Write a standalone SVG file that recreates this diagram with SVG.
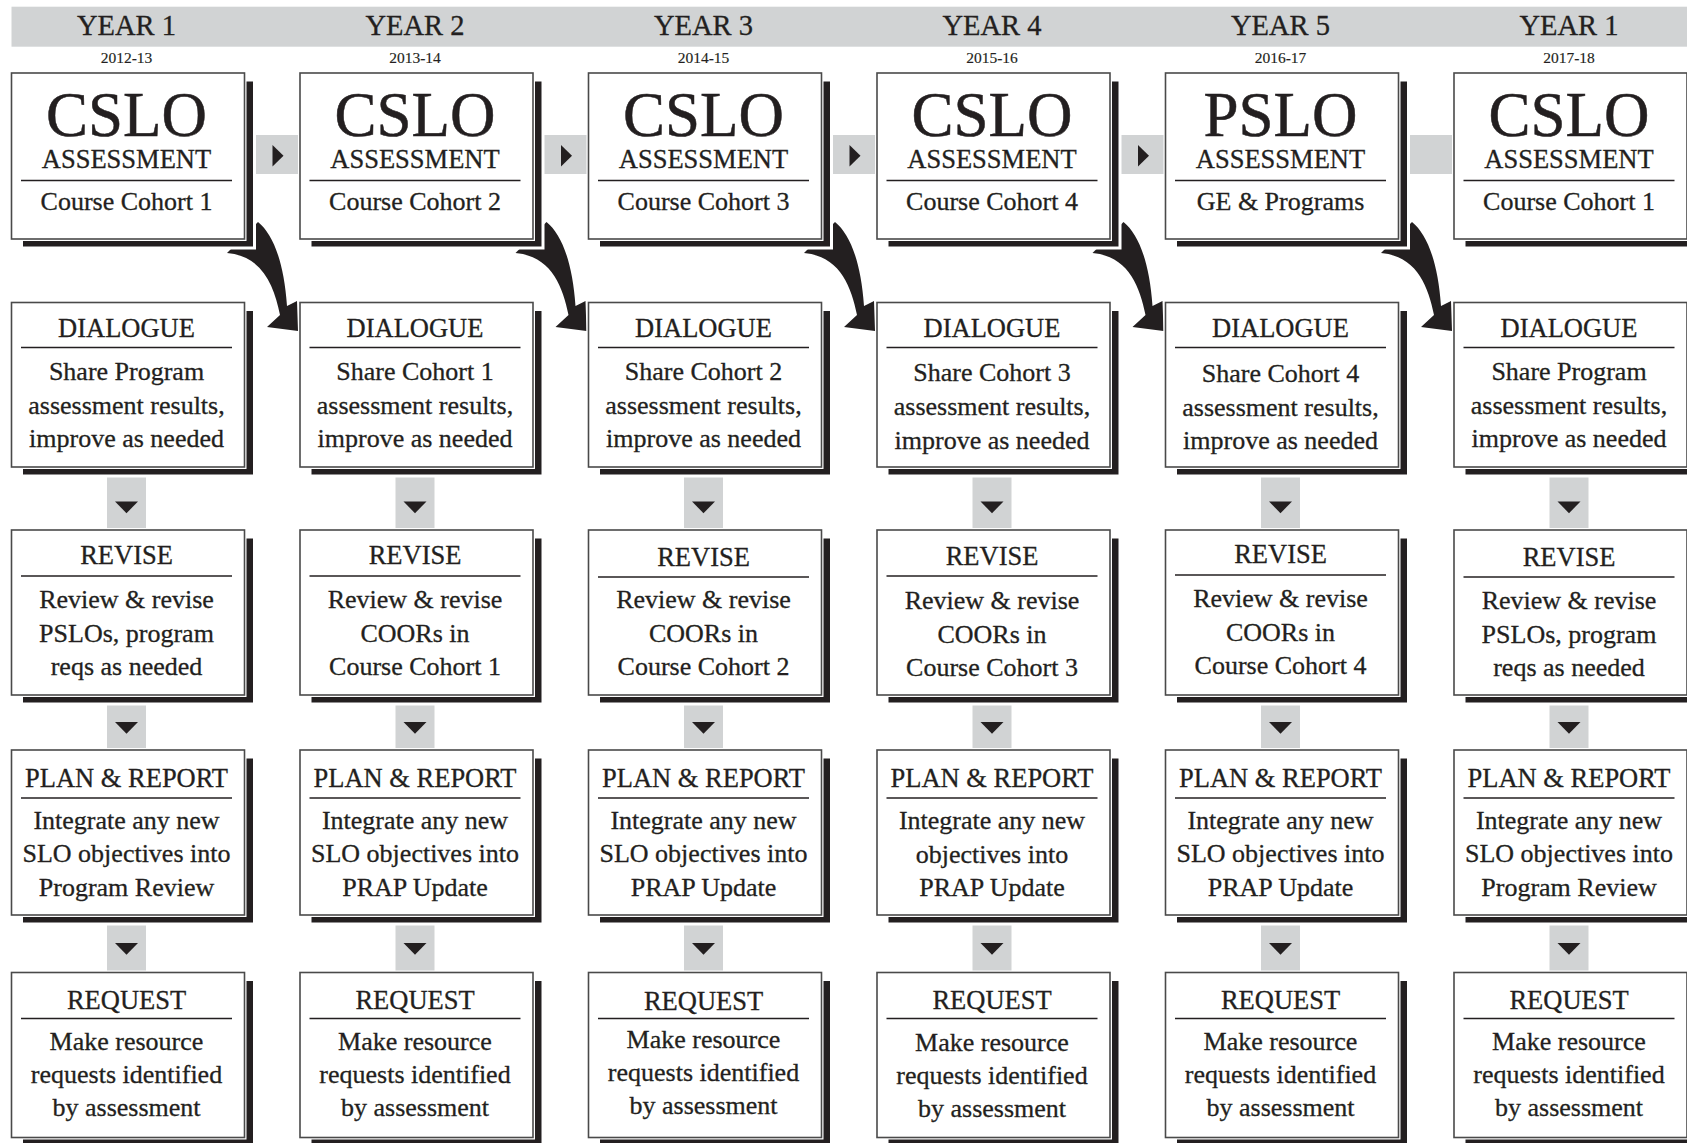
<svg xmlns="http://www.w3.org/2000/svg" xmlns:xlink="http://www.w3.org/1999/xlink" width="1687" height="1143" viewBox="0 0 1687 1143">
<style>
text{font-family:"Liberation Serif","Times New Roman",serif;fill:#231f20;stroke:#231f20;stroke-width:0.3;text-anchor:middle}
.yr{font-size:28.5px}
.dt{font-size:15.5px;stroke-width:0.15}
.big{font-size:63px;stroke-width:0.5}
.hd{font-size:26.5px}
.bd{font-size:26px}
.sh{fill:#231f20;stroke:#fff;stroke-width:3}
.bx{fill:#fff;stroke:#fff;stroke-width:4}
.bo{fill:none;stroke:#4a4a4a;stroke-width:1.6}
.sep{stroke:#231f20;stroke-width:1.6}
.band{fill:#d1d3d4}
.tri{fill:#231f20}
</style>
<defs>
<path id="curl" d="M258,222 C273,234 284,262 287,306 L297,301 L298,331 L267,327 L280,315 C274,285 262,256 227,253 Z" fill="#231f20"/>
</defs>
<rect x="0" y="0" width="1687" height="1143" fill="#fff"/>
<g id="header">
<rect class="band" x="11.5" y="6.7" width="1676" height="40"/>
<text class="yr" x="126.5" y="35">YEAR 1</text>
<text class="yr" x="415" y="35">YEAR 2</text>
<text class="yr" x="703.5" y="35">YEAR 3</text>
<text class="yr" x="992" y="35">YEAR 4</text>
<text class="yr" x="1280.5" y="35">YEAR 5</text>
<text class="yr" x="1569" y="35">YEAR 1</text>
<text class="dt" x="126.5" y="63.3">2012-13</text>
<text class="dt" x="415" y="63.3">2013-14</text>
<text class="dt" x="703.5" y="63.3">2014-15</text>
<text class="dt" x="992" y="63.3">2015-16</text>
<text class="dt" x="1280.5" y="63.3">2016-17</text>
<text class="dt" x="1569" y="63.3">2017-18</text>
</g>
<g id="connectors">
<rect class="band" x="11.5" y="135" width="1676" height="39"/>
<polygon class="tri" points="272.5,145 272.5,166.5 283.5,155.75"/>
<polygon class="tri" points="561,145 561,166.5 572,155.75"/>
<polygon class="tri" points="849.5,145 849.5,166.5 860.5,155.75"/>
<polygon class="tri" points="1138,145 1138,166.5 1149,155.75"/>
<rect class="band" x="107" y="312" width="39" height="831"/>
<rect class="band" x="395.5" y="312" width="39" height="831"/>
<rect class="band" x="684" y="312" width="39" height="831"/>
<rect class="band" x="972.5" y="312" width="39" height="831"/>
<rect class="band" x="1261" y="312" width="39" height="831"/>
<rect class="band" x="1549.5" y="312" width="39" height="831"/>
<g id="down-arrows">
<polygon class="tri" points="115,501.5 138,501.5 126.5,513.2"/>
<polygon class="tri" points="115,722 138,722 126.5,733.7"/>
<polygon class="tri" points="115,943 138,943 126.5,954.7"/>
<polygon class="tri" points="403.5,501.5 426.5,501.5 415,513.2"/>
<polygon class="tri" points="403.5,722 426.5,722 415,733.7"/>
<polygon class="tri" points="403.5,943 426.5,943 415,954.7"/>
<polygon class="tri" points="692,501.5 715,501.5 703.5,513.2"/>
<polygon class="tri" points="692,722 715,722 703.5,733.7"/>
<polygon class="tri" points="692,943 715,943 703.5,954.7"/>
<polygon class="tri" points="980.5,501.5 1003.5,501.5 992,513.2"/>
<polygon class="tri" points="980.5,722 1003.5,722 992,733.7"/>
<polygon class="tri" points="980.5,943 1003.5,943 992,954.7"/>
<polygon class="tri" points="1269,501.5 1292,501.5 1280.5,513.2"/>
<polygon class="tri" points="1269,722 1292,722 1280.5,733.7"/>
<polygon class="tri" points="1269,943 1292,943 1280.5,954.7"/>
<polygon class="tri" points="1557.5,501.5 1580.5,501.5 1569,513.2"/>
<polygon class="tri" points="1557.5,722 1580.5,722 1569,733.7"/>
<polygon class="tri" points="1557.5,943 1580.5,943 1569,954.7"/>
</g>
<g id="curved-arrows">
<use xlink:href="#curl"/>
<use xlink:href="#curl" transform="translate(288.5,0)"/>
<use xlink:href="#curl" transform="translate(577,0)"/>
<use xlink:href="#curl" transform="translate(865.5,0)"/>
<use xlink:href="#curl" transform="translate(1154,0)"/>
</g>
</g>

<!-- Column 1 -->
<g id="c1-assess"><rect class="sh" x="21.5" y="80" width="233" height="168"/><rect class="bx" x="11.5" y="73" width="233" height="166"/><rect class="bo" x="11.5" y="73" width="233" height="166"/>
<text class="big" x="126.5" y="136">CSLO</text><text class="hd" x="126.5" y="168">ASSESSMENT</text><line class="sep" x1="21" y1="180.5" x2="232" y2="180.5"/><text class="bd" x="126.5" y="209.5">Course Cohort 1</text></g>
<g id="c1-dialogue"><rect class="sh" x="21.5" y="309.5" width="233" height="166.5"/><rect class="bx" x="11.5" y="302.5" width="233" height="164.5"/><rect class="bo" x="11.5" y="302.5" width="233" height="164.5"/>
<text class="hd" x="126.5" y="336.5">DIALOGUE</text><line class="sep" x1="21" y1="347.5" x2="232" y2="347.5"/><text class="bd" x="126.5" y="380">Share Program</text><text class="bd" x="126.5" y="413.5">assessment results,</text><text class="bd" x="126.5" y="447">improve as needed</text></g>
<g id="c1-revise"><rect class="sh" x="21.5" y="537" width="233" height="167"/><rect class="bx" x="11.5" y="530" width="233" height="165"/><rect class="bo" x="11.5" y="530" width="233" height="165"/>
<text class="hd" x="126.5" y="564">REVISE</text><line class="sep" x1="21" y1="576" x2="232" y2="576"/><text class="bd" x="126.5" y="608">Review &amp; revise</text><text class="bd" x="126.5" y="641.5">PSLOs, program</text><text class="bd" x="126.5" y="675">reqs as needed</text></g>
<g id="c1-plan"><rect class="sh" x="21.5" y="757" width="233" height="167"/><rect class="bx" x="11.5" y="750" width="233" height="165"/><rect class="bo" x="11.5" y="750" width="233" height="165"/>
<text class="hd" x="126.5" y="786.5">PLAN &amp; REPORT</text><line class="sep" x1="21" y1="798" x2="232" y2="798"/><text class="bd" x="126.5" y="829">Integrate any new</text><text class="bd" x="126.5" y="862">SLO objectives into</text><text class="bd" x="126.5" y="895.5">Program Review</text></g>
<g id="c1-request"><rect class="sh" x="21.5" y="979.5" width="233" height="167"/><rect class="bx" x="11.5" y="972.5" width="233" height="165"/><rect class="bo" x="11.5" y="972.5" width="233" height="165"/>
<text class="hd" x="126.5" y="1009">REQUEST</text><line class="sep" x1="21" y1="1018.5" x2="232" y2="1018.5"/><text class="bd" x="126.5" y="1049.5">Make resource</text><text class="bd" x="126.5" y="1083">requests identified</text><text class="bd" x="126.5" y="1116">by assessment</text></g>

<!-- Column 2 -->
<g id="c2-assess"><rect class="sh" x="310" y="80" width="233" height="168"/><rect class="bx" x="300" y="73" width="233" height="166"/><rect class="bo" x="300" y="73" width="233" height="166"/>
<text class="big" x="415" y="136">CSLO</text><text class="hd" x="415" y="168">ASSESSMENT</text><line class="sep" x1="309.5" y1="180.5" x2="520.5" y2="180.5"/><text class="bd" x="415" y="209.5">Course Cohort 2</text></g>
<g id="c2-dialogue"><rect class="sh" x="310" y="309.5" width="233" height="166.5"/><rect class="bx" x="300" y="302.5" width="233" height="164.5"/><rect class="bo" x="300" y="302.5" width="233" height="164.5"/>
<text class="hd" x="415" y="336.5">DIALOGUE</text><line class="sep" x1="309.5" y1="347.5" x2="520.5" y2="347.5"/><text class="bd" x="415" y="380">Share Cohort 1</text><text class="bd" x="415" y="413.5">assessment results,</text><text class="bd" x="415" y="447">improve as needed</text></g>
<g id="c2-revise"><rect class="sh" x="310" y="537" width="233" height="167"/><rect class="bx" x="300" y="530" width="233" height="165"/><rect class="bo" x="300" y="530" width="233" height="165"/>
<text class="hd" x="415" y="564">REVISE</text><line class="sep" x1="309.5" y1="576" x2="520.5" y2="576"/><text class="bd" x="415" y="608">Review &amp; revise</text><text class="bd" x="415" y="641.5">COORs in</text><text class="bd" x="415" y="675">Course Cohort 1</text></g>
<g id="c2-plan"><rect class="sh" x="310" y="757" width="233" height="167"/><rect class="bx" x="300" y="750" width="233" height="165"/><rect class="bo" x="300" y="750" width="233" height="165"/>
<text class="hd" x="415" y="786.5">PLAN &amp; REPORT</text><line class="sep" x1="309.5" y1="798" x2="520.5" y2="798"/><text class="bd" x="415" y="829">Integrate any new</text><text class="bd" x="415" y="862">SLO objectives into</text><text class="bd" x="415" y="895.5">PRAP Update</text></g>
<g id="c2-request"><rect class="sh" x="310" y="979.5" width="233" height="167"/><rect class="bx" x="300" y="972.5" width="233" height="165"/><rect class="bo" x="300" y="972.5" width="233" height="165"/>
<text class="hd" x="415" y="1009">REQUEST</text><line class="sep" x1="309.5" y1="1018.5" x2="520.5" y2="1018.5"/><text class="bd" x="415" y="1049.5">Make resource</text><text class="bd" x="415" y="1083">requests identified</text><text class="bd" x="415" y="1116">by assessment</text></g>

<!-- Column 3 -->
<g id="c3-assess"><rect class="sh" x="598.5" y="80" width="233" height="168"/><rect class="bx" x="588.5" y="73" width="233" height="166"/><rect class="bo" x="588.5" y="73" width="233" height="166"/>
<text class="big" x="703.5" y="136">CSLO</text><text class="hd" x="703.5" y="168">ASSESSMENT</text><line class="sep" x1="598" y1="180.5" x2="809" y2="180.5"/><text class="bd" x="703.5" y="209.5">Course Cohort 3</text></g>
<g id="c3-dialogue"><rect class="sh" x="598.5" y="309.5" width="233" height="166.5"/><rect class="bx" x="588.5" y="302.5" width="233" height="164.5"/><rect class="bo" x="588.5" y="302.5" width="233" height="164.5"/>
<text class="hd" x="703.5" y="336.5">DIALOGUE</text><line class="sep" x1="598" y1="347.5" x2="809" y2="347.5"/><text class="bd" x="703.5" y="380">Share Cohort 2</text><text class="bd" x="703.5" y="413.5">assessment results,</text><text class="bd" x="703.5" y="447">improve as needed</text></g>
<g id="c3-revise"><rect class="sh" x="598.5" y="537" width="233" height="167"/><rect class="bx" x="588.5" y="530" width="233" height="165"/><rect class="bo" x="588.5" y="530" width="233" height="165"/>
<text class="hd" x="703.5" y="566">REVISE</text><line class="sep" x1="598" y1="577" x2="809" y2="577"/><text class="bd" x="703.5" y="608">Review &amp; revise</text><text class="bd" x="703.5" y="641.5">COORs in</text><text class="bd" x="703.5" y="675">Course Cohort 2</text></g>
<g id="c3-plan"><rect class="sh" x="598.5" y="757" width="233" height="167"/><rect class="bx" x="588.5" y="750" width="233" height="165"/><rect class="bo" x="588.5" y="750" width="233" height="165"/>
<text class="hd" x="703.5" y="786.5">PLAN &amp; REPORT</text><line class="sep" x1="598" y1="798" x2="809" y2="798"/><text class="bd" x="703.5" y="829">Integrate any new</text><text class="bd" x="703.5" y="862">SLO objectives into</text><text class="bd" x="703.5" y="895.5">PRAP Update</text></g>
<g id="c3-request"><rect class="sh" x="598.5" y="979.5" width="233" height="167"/><rect class="bx" x="588.5" y="972.5" width="233" height="165"/><rect class="bo" x="588.5" y="972.5" width="233" height="165"/>
<text class="hd" x="703.5" y="1010">REQUEST</text><line class="sep" x1="598" y1="1018.5" x2="809" y2="1018.5"/><text class="bd" x="703.5" y="1047.5">Make resource</text><text class="bd" x="703.5" y="1081">requests identified</text><text class="bd" x="703.5" y="1114">by assessment</text></g>

<!-- Column 4 -->
<g id="c4-assess"><rect class="sh" x="887" y="80" width="233" height="168"/><rect class="bx" x="877" y="73" width="233" height="166"/><rect class="bo" x="877" y="73" width="233" height="166"/>
<text class="big" x="992" y="136">CSLO</text><text class="hd" x="992" y="168">ASSESSMENT</text><line class="sep" x1="886.5" y1="180.5" x2="1097.5" y2="180.5"/><text class="bd" x="992" y="209.5">Course Cohort 4</text></g>
<g id="c4-dialogue"><rect class="sh" x="887" y="309.5" width="233" height="166.5"/><rect class="bx" x="877" y="302.5" width="233" height="164.5"/><rect class="bo" x="877" y="302.5" width="233" height="164.5"/>
<text class="hd" x="992" y="336.5">DIALOGUE</text><line class="sep" x1="886.5" y1="347.5" x2="1097.5" y2="347.5"/><text class="bd" x="992" y="381">Share Cohort 3</text><text class="bd" x="992" y="415">assessment results,</text><text class="bd" x="992" y="448.5">improve as needed</text></g>
<g id="c4-revise"><rect class="sh" x="887" y="537" width="233" height="167"/><rect class="bx" x="877" y="530" width="233" height="165"/><rect class="bo" x="877" y="530" width="233" height="165"/>
<text class="hd" x="992" y="565">REVISE</text><line class="sep" x1="886.5" y1="576" x2="1097.5" y2="576"/><text class="bd" x="992" y="609">Review &amp; revise</text><text class="bd" x="992" y="642.5">COORs in</text><text class="bd" x="992" y="676">Course Cohort 3</text></g>
<g id="c4-plan"><rect class="sh" x="887" y="757" width="233" height="167"/><rect class="bx" x="877" y="750" width="233" height="165"/><rect class="bo" x="877" y="750" width="233" height="165"/>
<text class="hd" x="992" y="786.5">PLAN &amp; REPORT</text><line class="sep" x1="886.5" y1="798" x2="1097.5" y2="798"/><text class="bd" x="992" y="829">Integrate any new</text><text class="bd" x="992" y="862.5">objectives into</text><text class="bd" x="992" y="896">PRAP Update</text></g>
<g id="c4-request"><rect class="sh" x="887" y="979.5" width="233" height="167"/><rect class="bx" x="877" y="972.5" width="233" height="165"/><rect class="bo" x="877" y="972.5" width="233" height="165"/>
<text class="hd" x="992" y="1009">REQUEST</text><line class="sep" x1="886.5" y1="1018.5" x2="1097.5" y2="1018.5"/><text class="bd" x="992" y="1050.5">Make resource</text><text class="bd" x="992" y="1084">requests identified</text><text class="bd" x="992" y="1117">by assessment</text></g>

<!-- Column 5 -->
<g id="c5-assess"><rect class="sh" x="1175.5" y="80" width="233" height="168"/><rect class="bx" x="1165.5" y="73" width="233" height="166"/><rect class="bo" x="1165.5" y="73" width="233" height="166"/>
<text class="big" x="1280.5" y="136">PSLO</text><text class="hd" x="1280.5" y="168">ASSESSMENT</text><line class="sep" x1="1175" y1="180.5" x2="1386" y2="180.5"/><text class="bd" x="1280.5" y="209.5">GE &amp; Programs</text></g>
<g id="c5-dialogue"><rect class="sh" x="1175.5" y="309.5" width="233" height="166.5"/><rect class="bx" x="1165.5" y="302.5" width="233" height="164.5"/><rect class="bo" x="1165.5" y="302.5" width="233" height="164.5"/>
<text class="hd" x="1280.5" y="336.5">DIALOGUE</text><line class="sep" x1="1175" y1="347.5" x2="1386" y2="347.5"/><text class="bd" x="1280.5" y="382">Share Cohort 4</text><text class="bd" x="1280.5" y="415.5">assessment results,</text><text class="bd" x="1280.5" y="449">improve as needed</text></g>
<g id="c5-revise"><rect class="sh" x="1175.5" y="537" width="233" height="167"/><rect class="bx" x="1165.5" y="530" width="233" height="165"/><rect class="bo" x="1165.5" y="530" width="233" height="165"/>
<text class="hd" x="1280.5" y="562.5">REVISE</text><line class="sep" x1="1175" y1="575" x2="1386" y2="575"/><text class="bd" x="1280.5" y="607">Review &amp; revise</text><text class="bd" x="1280.5" y="640.5">COORs in</text><text class="bd" x="1280.5" y="674">Course Cohort 4</text></g>
<g id="c5-plan"><rect class="sh" x="1175.5" y="757" width="233" height="167"/><rect class="bx" x="1165.5" y="750" width="233" height="165"/><rect class="bo" x="1165.5" y="750" width="233" height="165"/>
<text class="hd" x="1280.5" y="786.5">PLAN &amp; REPORT</text><line class="sep" x1="1175" y1="798" x2="1386" y2="798"/><text class="bd" x="1280.5" y="829">Integrate any new</text><text class="bd" x="1280.5" y="862">SLO objectives into</text><text class="bd" x="1280.5" y="895.5">PRAP Update</text></g>
<g id="c5-request"><rect class="sh" x="1175.5" y="979.5" width="233" height="167"/><rect class="bx" x="1165.5" y="972.5" width="233" height="165"/><rect class="bo" x="1165.5" y="972.5" width="233" height="165"/>
<text class="hd" x="1280.5" y="1009">REQUEST</text><line class="sep" x1="1175" y1="1018.5" x2="1386" y2="1018.5"/><text class="bd" x="1280.5" y="1049.5">Make resource</text><text class="bd" x="1280.5" y="1083">requests identified</text><text class="bd" x="1280.5" y="1116">by assessment</text></g>

<!-- Column 6 -->
<g id="c6-assess"><rect class="sh" x="1464" y="80" width="233" height="168"/><rect class="bx" x="1454" y="73" width="233" height="166"/><rect class="bo" x="1454" y="73" width="233" height="166"/>
<text class="big" x="1569" y="136">CSLO</text><text class="hd" x="1569" y="168">ASSESSMENT</text><line class="sep" x1="1463.5" y1="180.5" x2="1674.5" y2="180.5"/><text class="bd" x="1569" y="209.5">Course Cohort 1</text></g>
<g id="c6-dialogue"><rect class="sh" x="1464" y="309.5" width="233" height="166.5"/><rect class="bx" x="1454" y="302.5" width="233" height="164.5"/><rect class="bo" x="1454" y="302.5" width="233" height="164.5"/>
<text class="hd" x="1569" y="336.5">DIALOGUE</text><line class="sep" x1="1463.5" y1="347.5" x2="1674.5" y2="347.5"/><text class="bd" x="1569" y="380">Share Program</text><text class="bd" x="1569" y="413.5">assessment results,</text><text class="bd" x="1569" y="447">improve as needed</text></g>
<g id="c6-revise"><rect class="sh" x="1464" y="537" width="233" height="167"/><rect class="bx" x="1454" y="530" width="233" height="165"/><rect class="bo" x="1454" y="530" width="233" height="165"/>
<text class="hd" x="1569" y="566">REVISE</text><line class="sep" x1="1463.5" y1="577" x2="1674.5" y2="577"/><text class="bd" x="1569" y="609">Review &amp; revise</text><text class="bd" x="1569" y="642.5">PSLOs, program</text><text class="bd" x="1569" y="676">reqs as needed</text></g>
<g id="c6-plan"><rect class="sh" x="1464" y="757" width="233" height="167"/><rect class="bx" x="1454" y="750" width="233" height="165"/><rect class="bo" x="1454" y="750" width="233" height="165"/>
<text class="hd" x="1569" y="786.5">PLAN &amp; REPORT</text><line class="sep" x1="1463.5" y1="798" x2="1674.5" y2="798"/><text class="bd" x="1569" y="829">Integrate any new</text><text class="bd" x="1569" y="862">SLO objectives into</text><text class="bd" x="1569" y="895.5">Program Review</text></g>
<g id="c6-request"><rect class="sh" x="1464" y="979.5" width="233" height="167"/><rect class="bx" x="1454" y="972.5" width="233" height="165"/><rect class="bo" x="1454" y="972.5" width="233" height="165"/>
<text class="hd" x="1569" y="1009">REQUEST</text><line class="sep" x1="1463.5" y1="1018.5" x2="1674.5" y2="1018.5"/><text class="bd" x="1569" y="1049.5">Make resource</text><text class="bd" x="1569" y="1083">requests identified</text><text class="bd" x="1569" y="1116">by assessment</text></g>
</svg>
